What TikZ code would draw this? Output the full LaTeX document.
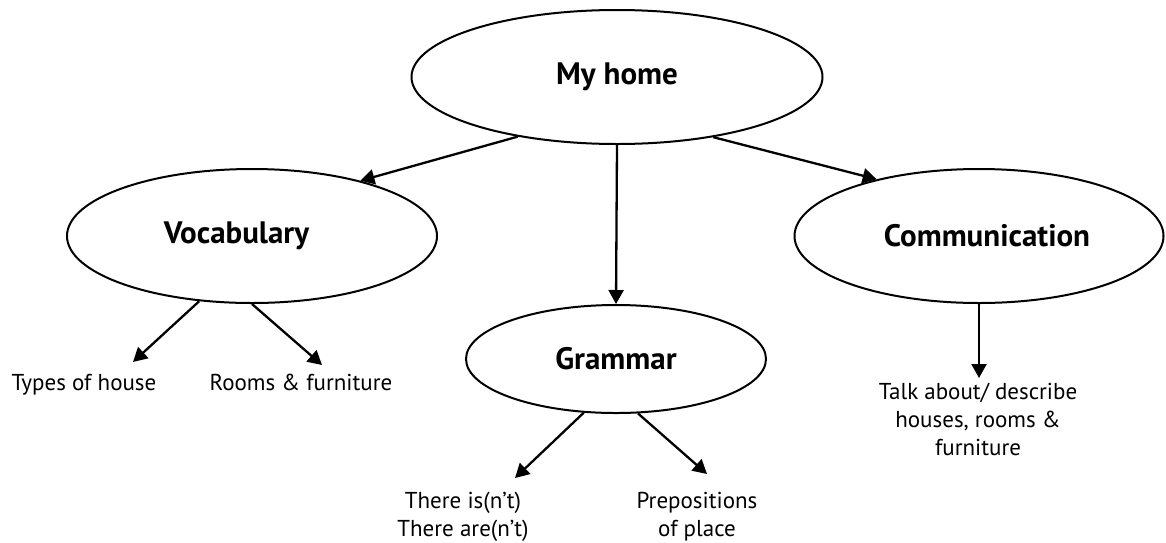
\documentclass[tikz,border=0pt]{standalone}
\usepackage{fontspec}
\setmainfont{PT Sans}
\usetikzlibrary{shapes.geometric, arrows.meta}

\tikzset{
  topic/.style={draw, ellipse, line width=2pt, inner sep=0pt,
                font=\bfseries\fontsize{31}{37}\selectfont},
  leaf/.style={inner sep=0pt, align=center, anchor=base,
               font=\fontsize{23}{28}\selectfont},
  arr/.style={-{Triangle[length=14pt,width=15pt]}, line width=2.3pt},
}

\begin{document}
\begin{tikzpicture}[x=1pt,y=-1pt]
        \useasboundingbox (0,0) rectangle (1166,542);

        \node (H)  [topic, minimum width=411pt, minimum height=134pt] at (617,77)  {My home};
        \node (V)  [topic, minimum width=370pt, minimum height=134pt] at (252,236) {\hspace*{-31pt}Vocabulary};
        \node (G)  [topic, minimum width=300pt, minimum height=108pt] at (616,359) {Grammar};
        \node (C)  [topic, minimum width=369pt, minimum height=134pt] at (979,236) {\hspace*{16pt}Communication};

        \node (T)  [leaf] at (84,390)  {Types of house};
        \node (R)  [leaf] at (301,390) {Rooms \& furniture};
        \node (Ti) [leaf] at (463,536) {There is(n’t)\\There are(n’t)};
        \node (P)  [leaf] at (697,536) {Prepositions\\of place};
        \node (D)  [leaf] at (978,455) {Talk about/ describe\\houses, rooms \&\\furniture};

        \draw[arr] (H.211.2) -- (V.27.7);
        \draw[arr] (H.south) -- (G.north);
        \draw[arr] (H.328.5) -- (C.151.1);
        \draw[arr] (V.231.8) -- ([shift={(49,-28)}]T.base);
        \draw[arr] (V.south) -- ([shift={(21,-25)}]R.base);
        \draw[arr] (G.239.7) -- ([shift={(52,-58)}]Ti.base);
        \draw[arr] (G.292.5) -- ([shift={(10,-62)}]P.base);
        \draw[arr] (C.south) -- ([shift={(1,-77)}]D.base);
\end{tikzpicture}
\end{document}
